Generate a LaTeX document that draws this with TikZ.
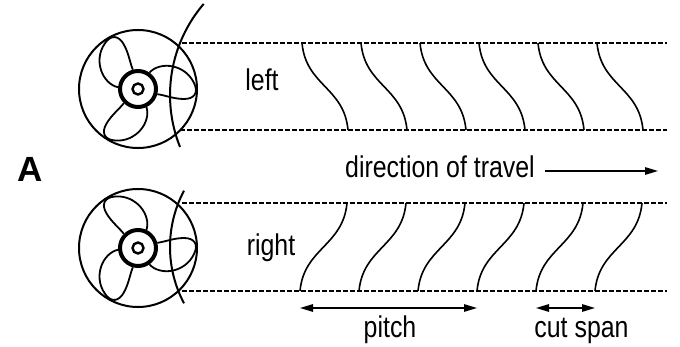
\documentclass[tikz,border=0pt]{standalone}
\usepackage{fontspec}
\setmainfont{Liberation Sans}
\newfontfamily\narrowfont{Liberation Sans}[FakeStretch=0.83]
\usetikzlibrary{arrows.meta}

\begin{document}
\begin{tikzpicture}[x=1pt, y=1pt,
	cut/.style={line width=1.6pt},
	track/.style={line width=1.5pt, dash pattern=on 4.5pt off 2.5pt},
	dim/.style={line width=1.4pt, {Triangle[length=13pt,width=7.5pt]}-{Triangle[length=13pt,width=7.5pt]}},
	lbl/.style={font=\narrowfont\fontsize{30}{32}\selectfont, inner sep=0pt}]
	\useasboundingbox (0,0) rectangle (680,346);

	% the two propellers, the lower one mirrored
	\foreach \cy/\flip in {257/1, 98/-1} {
		\begin{scope}[shift={(138,\cy)}, yscale=\flip]
			\draw[line width=2pt] (0,0) circle (59);
			\foreach \a in {0,120,240}
				\draw[line width=1.8pt, rotate=\a] (55:20) .. controls (22,28) and (47,25) .. (56,6)
					.. controls (61,-4) and (56,-10) .. (46,-10) .. controls (36,-10) and (26,-6) .. (-15:20);
			\filldraw[fill=white, line width=4pt] (0,0) circle (18);
			\draw[line width=2.4pt] (0,0) circle (5.5);
		\end{scope}
	}

	% cutting arcs
	\draw[line width=2pt] (310,251) ++(139.4:140) arc (139.4:201.8:140);
	\draw[line width=2pt] (290,99) ++(152:120) arc (152:208:120);

	% tracks
	\draw[track] (182,303) -- (667,303);
	\draw[track] (180,216) -- (667,216);
	\draw[track] (182,143) -- (667,143);
	\draw[track] (182,55) -- (667,55);

	% cuts left by the blades
	\foreach \i in {0,...,5} {
		\draw[cut] (302+59*\i,303) .. controls +(4,-43) and +(-4,43) .. (348+59*\i,216);
		\coordinate (r\i) at (300+59*\i,55);
		\draw[cut] (r\i) .. controls +(4,43) and +(-4,-43) .. (347+59*\i,143);
	}

	\node[font=\bfseries\fontsize{35}{37}\selectfont, inner sep=0pt] (panel) at (30.5,176.5) {A};
	\node[lbl, anchor=base] (left) at (262,255) {left};
	\node[lbl, anchor=base] (right) at (271,91) {right};

	\node[lbl, anchor=base west] (travel) at (345,169) {direction of travel};
	\coordinate (tail) at ([xshift=10pt]travel.east);
	\coordinate (ahead) at (658,175);
	\draw[line width=1.4pt, -{Triangle[length=13pt,width=7.5pt]}] (tail |- ahead) -- (ahead);

	% pitch and cut span
	\draw[dim] ([yshift=-17pt]r0) -- ([yshift=-17pt]r3);
	\draw[dim] ([yshift=-17pt]r4) -- ([yshift=-17pt]r5);
	\node[lbl, anchor=base] (pitch) at (390,9) {pitch};
	\node[lbl, anchor=base] (span) at (581.5,9) {cut span};
\end{tikzpicture}
\end{document}
